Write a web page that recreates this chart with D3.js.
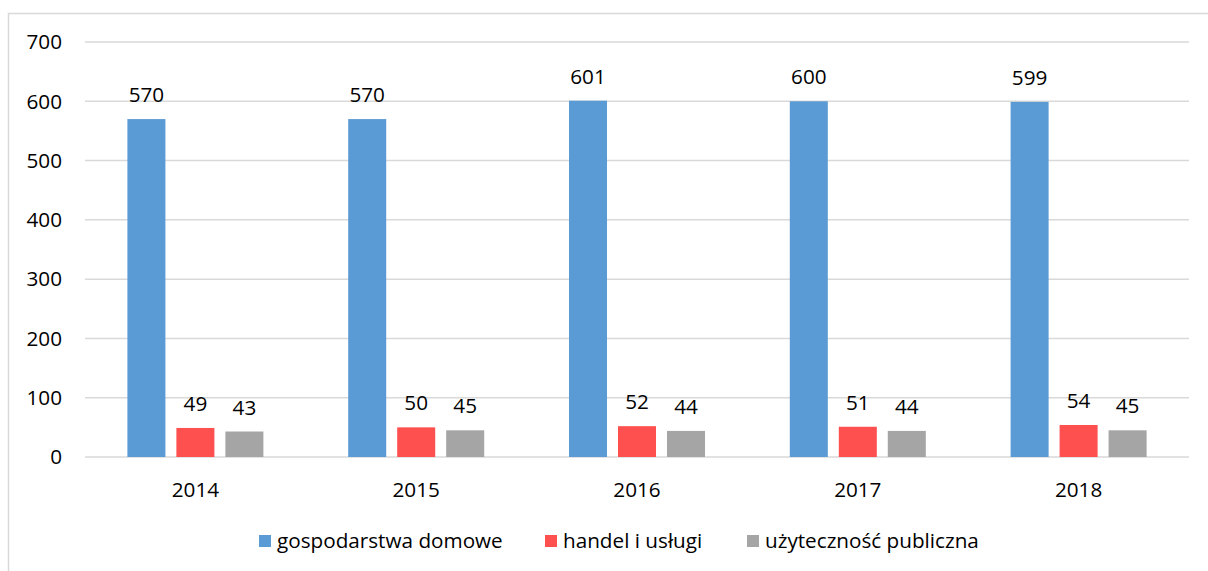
<!DOCTYPE html>
<html>
<head>
<meta charset="utf-8">
<script src="https://cdn.jsdelivr.net/npm/d3@7"></script>
<style>
  body { margin: 0; background: #fff; }
  text { font-family: "Open Sans", "Noto Sans", sans-serif; fill: #000; }
</style>
</head>
<body>
<div id="graph"></div>
<script>
const years = ["2014", "2015", "2016", "2017", "2018"];
const seriesNames = ["gospodarstwa domowe", "handel i usługi", "użyteczność publiczna"];
const households = [570, 570, 601, 600, 599];
const trade = [49, 50, 52, 51, 54];
const publicUse = [43, 45, 44, 44, 45];
const yTicks = [0, 100, 200, 300, 400, 500, 600, 700];
const colors = ["#5b9bd5", "#ff5050", "#a5a5a5"];

const width = 1208, height = 571;
const padL = 85, padR = 1189, padT = 42, padB = 457;
const fs = 20.7;

const svg = d3.select("#graph").append("svg").attr("width", width).attr("height", height);

// chart frame
svg.append("rect").attr("x", 8.5).attr("y", 13.5).attr("width", 1220).attr("height", 600)
  .attr("fill", "none").attr("stroke", "#d9d9d9").attr("stroke-width", 1.5);

const x0 = d3.scaleBand().domain(years).range([padL, padR]);
const x1 = d3.scaleBand().domain(seriesNames).range([42.4, 178.4]).paddingInner(0.224).paddingOuter(0);
const y = d3.scaleLinear().domain([0, 700]).range([padB, padT]);

// gridlines
svg.append("g").selectAll("line").data(yTicks).enter().append("line")
  .attr("x1", padL).attr("x2", padR)
  .attr("y1", d => y(d)).attr("y2", d => y(d))
  .attr("stroke", "#d9d9d9").attr("stroke-width", 1.5);

// y labels
svg.append("g").selectAll("text").data(yTicks).enter().append("text")
  .attr("x", 62).attr("y", d => y(d)).attr("dy", "0.35em")
  .attr("text-anchor", "end").attr("font-size", fs)
  .text(d => d);

// x labels
svg.append("g").selectAll("text").data(years).enter().append("text")
  .attr("x", d => x0(d) + x0.bandwidth() / 2).attr("y", 497)
  .attr("text-anchor", "middle").attr("font-size", fs)
  .text(d => d);

const table = years.map((yr, i) => ({
  year: yr,
  vals: [households[i], trade[i], publicUse[i]].map((v, j) => ({ name: seriesNames[j], v: v, c: colors[j] }))
}));

const groups = svg.append("g").selectAll("g").data(table).enter().append("g")
  .attr("transform", d => "translate(" + x0(d.year) + ",0)");

groups.selectAll("rect").data(d => d.vals).enter().append("rect")
  .attr("x", d => x1(d.name))
  .attr("y", d => y(d.v))
  .attr("width", x1.bandwidth())
  .attr("height", d => padB - y(d.v))
  .attr("fill", d => d.c);

groups.selectAll("text").data(d => d.vals).enter().append("text")
  .attr("x", d => x1(d.name) + x1.bandwidth() / 2)
  .attr("y", d => y(d.v) - 17)
  .attr("text-anchor", "middle").attr("font-size", fs)
  .text(d => d.v);

// legend
const legendX = [259, 545, 747];
const legend = svg.append("g").selectAll("g").data(seriesNames).enter().append("g")
  .attr("transform", (d, i) => "translate(" + legendX[i] + ",535)");
legend.append("rect").attr("width", 12).attr("height", 12).attr("fill", (d, i) => colors[i]);
legend.append("text").attr("x", 18).attr("y", 6).attr("dy", "0.35em")
  .attr("font-size", fs).text(d => d);
</script>
</body>
</html>
